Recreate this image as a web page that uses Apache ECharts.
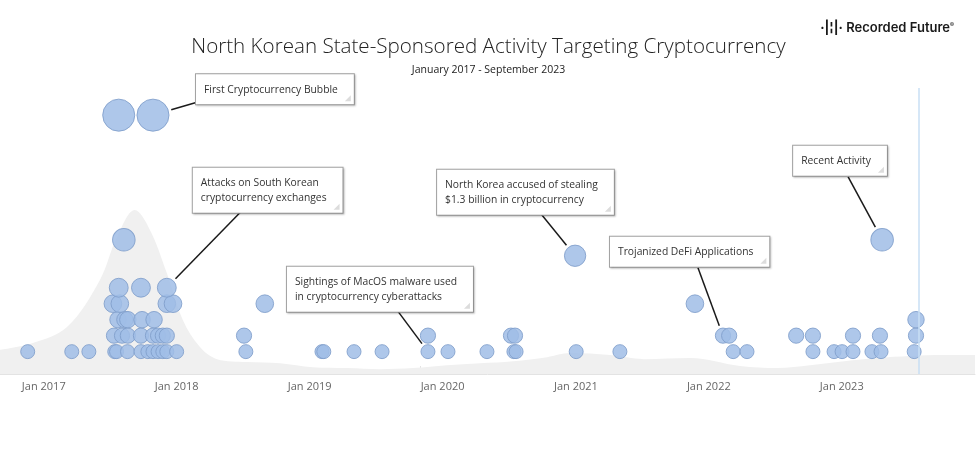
<!DOCTYPE html>
<html>
<head>
<meta charset="utf-8">
<title>North Korean State-Sponsored Activity Targeting Cryptocurrency</title>
<script src="https://cdn.jsdelivr.net/npm/echarts@6.0.0/dist/echarts.min.js"></script>
<style>
  html, body { margin: 0; padding: 0; background: #fff; }
  #chart { width: 977px; height: 452px; }
</style>
</head>
<body>
<div id="chart"></div>
<script>
// each event: [date, stack level] - the level also drives the bubble size
const events = [
  // level 0
  ['2017-01-17', 0], ['2017-05-18', 0], ['2017-07-04', 0], ['2017-09-13', 0],
  ['2017-09-18', 0], ['2017-10-18', 0], ['2017-11-24', 0], ['2017-12-13', 0],
  ['2017-12-27', 0], ['2018-01-10', 0], ['2018-01-23', 0], ['2018-02-03', 0],
  ['2018-03-02', 0], ['2018-09-08', 0], ['2019-04-05', 0], ['2019-04-10', 0],
  ['2019-07-02', 0], ['2019-09-17', 0], ['2020-01-21', 0], ['2020-03-16', 0],
  ['2020-07-01', 0], ['2020-09-13', 0], ['2020-09-19', 0], ['2021-03-03', 0],
  ['2021-07-01', 0], ['2022-05-08', 0], ['2022-06-15', 0], ['2022-12-13', 0],
  ['2023-02-09', 0], ['2023-03-03', 0], ['2023-04-02', 0], ['2023-05-24', 0],
  ['2023-06-18', 0], ['2023-09-17', 0],
  // level 1
  ['2017-09-11', 1], ['2017-10-03', 1], ['2017-10-19', 1], ['2017-11-24', 1],
  ['2017-12-27', 1], ['2018-01-10', 1], ['2018-01-23', 1], ['2018-02-03', 1],
  ['2018-09-03', 1], ['2020-01-21', 1], ['2020-09-05', 1], ['2020-09-16', 1],
  ['2022-04-10', 1], ['2022-04-27', 1], ['2022-10-28', 1], ['2022-12-13', 1],
  ['2023-04-02', 1], ['2023-06-15', 1], ['2023-09-22', 1],
  // level 2
  ['2017-09-22', 2], ['2017-10-11', 2], ['2017-10-19', 2], ['2017-11-27', 2],
  ['2017-12-30', 2], ['2023-09-22', 2],
  // level 3
  ['2017-09-08', 3], ['2017-09-27', 3], ['2018-02-03', 3], ['2018-02-20', 3],
  ['2018-10-30', 3], ['2022-01-23', 3],
  // level 4
  ['2017-09-24', 4], ['2017-11-24', 4], ['2018-02-03', 4],
  // higher
  ['2021-02-28', 6], ['2017-10-08', 7], ['2023-06-21', 7],
  ['2017-09-24', 14.8], ['2017-12-27', 14.8]
];

// smoothed activity density drawn as the grey backdrop
const densityDates = [
  '2016-11-02', '2017-01-31', '2017-05-05', '2017-08-03', '2017-09-19',
  '2017-11-07', '2017-12-19', '2018-02-03', '2018-03-19', '2018-05-05',
  '2018-06-21', '2018-09-11', '2018-12-11', '2019-03-11', '2019-06-13',
  '2019-09-11', '2019-12-11', '2020-03-13', '2020-06-12', '2020-09-11',
  '2020-12-13', '2021-02-14', '2021-06-04', '2021-09-05', '2022-01-10',
  '2022-05-27', '2022-09-06', '2022-12-05', '2023-03-09', '2023-06-07',
  '2023-09-06', '2023-12-08', '2024-03-02'
];
const densityValues = [
  0.084, 0.108, 0.164, 0.328, 0.478,
  0.573, 0.503, 0.353, 0.189, 0.094,
  0.052, 0.042, 0.038, 0.024, 0.021,
  0.017, 0.021, 0.031, 0.038, 0.045,
  0.059, 0.073, 0.066, 0.052, 0.056,
  0.028, 0.021, 0.031, 0.045, 0.056,
  0.063, 0.066, 0.066
];

const tickDates = ['2017-01-01', '2018-01-01', '2019-01-01', '2020-01-01',
  '2021-01-01', '2022-01-01', '2023-01-01'];

const calloutTexts = [
  'First Cryptocurrency Bubble',
  'Attacks on South Korean\ncryptocurrency exchanges',
  'Sightings of MacOS malware used\nin cryptocurrency cyberattacks',
  'North Korea accused of stealing\n$1.3 billion in cryptocurrency',
  'Trojanized DeFi Applications',
  'Recent Activity'
];
const calloutAnchors = [
  ['2017-12-27', 14.8], ['2018-02-03', 4], ['2020-01-21', 0],
  ['2021-02-28', 6], ['2022-04-10', 1], ['2023-06-21', 7]
];

const reportEnd = '2023-09-30';
const axisStart = '2016-11-02';
const axisEnd = '2024-03-02';

// callout layout relative to its bubble centre (px): box top-left, leader start
const calloutBox = [[43, -41], [26, -120], [-141, -85], [-138, -86], [-113, -99], [-89, -94]];
const calloutLead = [[44, -13], [76, -78], [-32, -43], [-35, -43], [-25, -68], [-34, -63]];

const font = 'Open Sans';
const calloutFontSize = 10.3;
const calloutLineHeight = 15;
const calloutPad = [8, 16, 7, 8];
const ts = d => +echarts.time.parse(d);
const toPoints = list => list.map(p => [ts(p[0]), p[1]]);
const bubbleSize = v => 14 + 1.22 * v[1];

// measure callout text so the little corner grip can sit inside each box
const measureCtx = document.createElement('canvas').getContext('2d');
measureCtx.font = calloutFontSize + 'px "' + font + '"';
function boxSize(text) {
  let lines = text.split('\n'),
    w = 0;
  lines.forEach(l => (w = Math.max(w, measureCtx.measureText(l).width)));
  return [
    w + calloutPad[1] + calloutPad[3],
    lines.length * calloutLineHeight + calloutPad[0] + calloutPad[2]
  ];
}

function renderCallout(params, api) {
  let i = params.dataIndex,
    t = api.value(0),
    lvl = api.value(1),
    c = api.coord([t, lvl]),
    r = bubbleSize([t, lvl]) / 2,
    sx = c[0] + calloutLead[i][0],
    sy = c[1] + calloutLead[i][1],
    len = Math.sqrt((sx - c[0]) * (sx - c[0]) + (sy - c[1]) * (sy - c[1])),
    ex = c[0] + ((sx - c[0]) / len) * (r + 3),
    ey = c[1] + ((sy - c[1]) / len) * (r + 3),
    bx = c[0] + calloutBox[i][0],
    by = c[1] + calloutBox[i][1],
    size = boxSize(calloutTexts[i]),
    gx = bx + size[0] - 3,
    gy = by + size[1] - 3;
  return {
    type: 'group',
    children: [
      {
        type: 'line',
        shape: { x1: sx, y1: sy, x2: ex, y2: ey },
        style: { stroke: '#1a1a1a', lineWidth: 1.5 }
      },
      {
        type: 'text',
        x: bx,
        y: by,
        style: {
          text: calloutTexts[i],
          fontFamily: font,
          fontSize: calloutFontSize,
          lineHeight: calloutLineHeight,
          fill: '#333',
          align: 'left',
          verticalAlign: 'top',
          backgroundColor: '#fff',
          borderColor: '#a3a3a3',
          borderWidth: 1,
          padding: calloutPad,
          shadowColor: 'rgba(0,0,0,0.18)',
          shadowBlur: 2,
          shadowOffsetX: 1,
          shadowOffsetY: 1
        }
      },
      {
        type: 'polygon',
        shape: { points: [[gx, gy - 6], [gx, gy], [gx - 6, gy]] },
        style: { fill: '#dcdcdc' }
      }
    ]
  };
}

let myChart = echarts.init(document.getElementById('chart')),
  option;

option = {
  animation: false,
  backgroundColor: '#fff',
  title: [
    {
      text: 'North Korean State-Sponsored Activity Targeting Cryptocurrency',
      left: 'center',
      top: 32,
      textStyle: { fontFamily: font, fontSize: 20.6, fontWeight: 300, color: '#222' }
    },
    {
      text: 'January 2017 - September 2023',
      left: 'center',
      top: 60,
      textStyle: { fontFamily: font, fontSize: 10.5, fontWeight: 'normal', color: '#222' }
    },
    {
      text: '{icon|·|¦|·} Recorded Future{reg|®}',
      right: 18,
      top: 17,
      textStyle: {
        fontFamily: 'Inter', fontSize: 13, fontWeight: 600, color: '#1a1a1a',
        rich: {
          icon: { fontFamily: 'Inter', fontSize: 13, fontWeight: 700, color: '#1a1a1a' },
          reg: { fontFamily: 'Inter', fontSize: 6, color: '#1a1a1a', verticalAlign: 'top', padding: [0, 0, 6, 0] }
        }
      }
    }
  ],
  grid: { left: 0, right: 2, top: 88, bottom: 78 },
  xAxis: {
    type: 'value',
    min: ts(axisStart),
    max: ts(axisEnd),
    axisLine: { show: true, onZero: false, lineStyle: { color: '#e3e3e3', width: 1 } },
    axisTick: {
      show: true,
      inside: true,
      length: 8,
      customValues: tickDates.map(ts),
      lineStyle: { color: '#e3e3e3' }
    },
    axisLabel: {
      customValues: tickDates.map(ts),
      formatter: value => 'Jan ' + new Date(value).getFullYear(),
      align: 'left',
      margin: 7,
      fontFamily: font,
      fontSize: 11,
      color: '#666'
    },
    splitLine: { show: false }
  },
  yAxis: [
    { type: 'value', min: -1.4, max: 16.5, show: false },
    { type: 'value', min: 0, max: 1, show: false }
  ],
  series: [
    {
      name: 'density',
      type: 'line',
      yAxisIndex: 1,
      data: densityDates.map((d, i) => [ts(d), densityValues[i]]),
      smooth: 0.35,
      symbol: 'none',
      silent: true,
      lineStyle: { width: 0 },
      areaStyle: { color: '#f0f0f0', opacity: 1 },
      z: 1,
      markLine: {
        silent: true,
        symbol: 'none',
        label: { show: false },
        lineStyle: { color: '#c9dff4', width: 1.5, type: 'solid' },
        data: [{ xAxis: ts(reportEnd) }]
      }
    },
    {
      name: 'activity',
      type: 'scatter',
      data: toPoints(events),
      symbolSize: bubbleSize,
      itemStyle: { color: '#a0bde6', opacity: 0.85, borderColor: '#7f9dca', borderWidth: 1 },
      z: 3
    },
    {
      name: 'callouts',
      type: 'custom',
      data: toPoints(calloutAnchors),
      encode: { x: 0, y: 1 },
      renderItem: renderCallout,
      silent: true,
      clip: false,
      z: 5
    }
  ]
};

if (option && typeof option === 'object') myChart.setOption(option);
window.addEventListener('resize', function () {
  myChart.resize();
});
</script>
</body>
</html>
